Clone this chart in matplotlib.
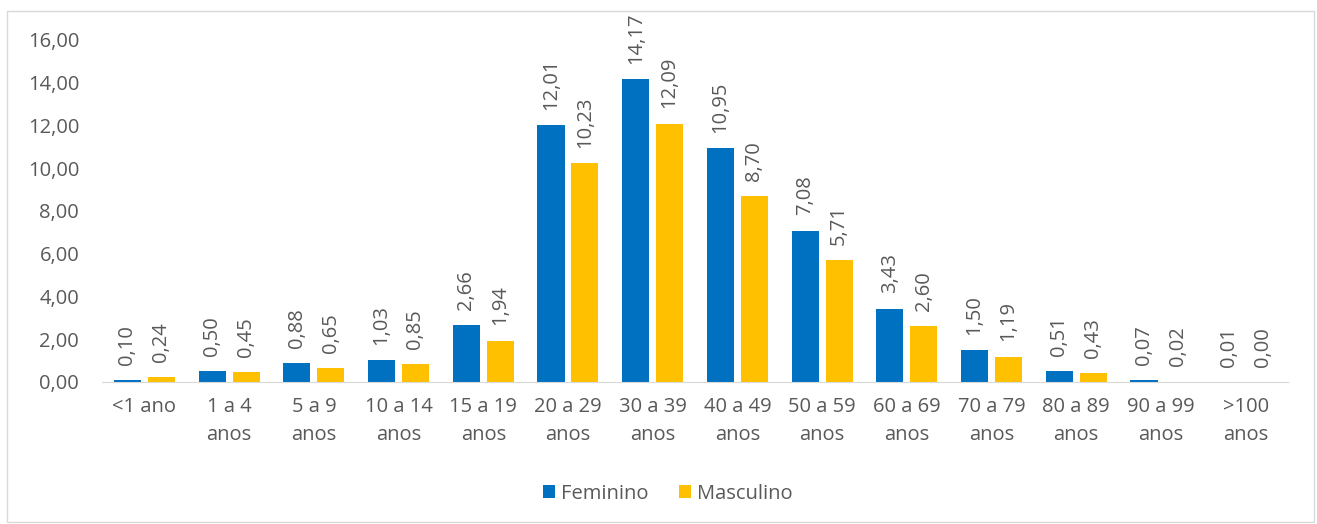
import matplotlib.pyplot as plt
import numpy as np

categories = ["<1 ano", "1 a 4\nanos", "5 a 9\nanos", "10 a 14\nanos", "15 a 19\nanos",
              "20 a 29\nanos", "30 a 39\nanos", "40 a 49\nanos", "50 a 59\nanos",
              "60 a 69\nanos", "70 a 79\nanos", "80 a 89\nanos", "90 a 99\nanos", ">100\nanos"]
feminino = [0.10, 0.50, 0.88, 1.03, 2.66, 12.01, 14.17, 10.95, 7.08, 3.43, 1.50, 0.51, 0.07, 0.01]
masculino = [0.24, 0.45, 0.65, 0.85, 1.94, 10.23, 12.09, 8.70, 5.71, 2.60, 1.19, 0.43, 0.02, 0.00]

plt.rcParams['font.family'] = ['Open Sans', 'DejaVu Sans']
grey = "#595959"
fs = 14.5

fig = plt.figure(figsize=(13.17, 5.24), dpi=100)
ax = fig.add_axes([0.0775, 0.271, 0.9005, 0.6527])

# light frame around the whole chart
fig.patches.append(plt.Rectangle((0.005, 0.003), 0.993, 0.976, transform=fig.transFigure,
                                 fill=False, edgecolor="#d9d9d9", lw=1))

x = np.arange(len(categories))
w = 0.32
b1 = ax.bar(x - 0.2, feminino, w, color="#0070C0", label="Feminino")
b2 = ax.bar(x + 0.2, masculino, w, color="#FFC000", label="Masculino")

for bars, vals in ((b1, feminino), (b2, masculino)):
    for rect, v in zip(bars, vals):
        ax.annotate(f"{v:.2f}".replace(".", ","),
                    (rect.get_x() + rect.get_width() / 2, rect.get_height()),
                    xytext=(0, 11), textcoords="offset points",
                    rotation=90, ha="center", va="bottom", fontsize=fs, color=grey)

ax.set_xlim(-0.5, len(categories) - 0.5)
ax.set_ylim(0, 16)
ax.set_yticks(np.arange(0, 17, 2))
ax.set_yticklabels([f"{t:.2f}".replace(".", ",") for t in np.arange(0, 17, 2)])
ax.set_xticks(x)
ax.set_xticklabels(categories, linespacing=1.55)
ax.tick_params(axis="both", length=0, labelsize=fs, labelcolor=grey)
ax.tick_params(axis="y", pad=16.5)
ax.tick_params(axis="x", pad=10.5)

for s in ("top", "right", "left"):
    ax.spines[s].set_visible(False)
ax.spines["bottom"].set_color("#d9d9d9")

ax.legend(loc="center", bbox_to_anchor=(0.477, -0.327), ncol=2, frameon=False,
          fontsize=fs, labelcolor=grey, handlelength=0.6, handleheight=0.6,
          handletextpad=0.3, columnspacing=1.5)

fig.savefig("out.png", dpi=100)
